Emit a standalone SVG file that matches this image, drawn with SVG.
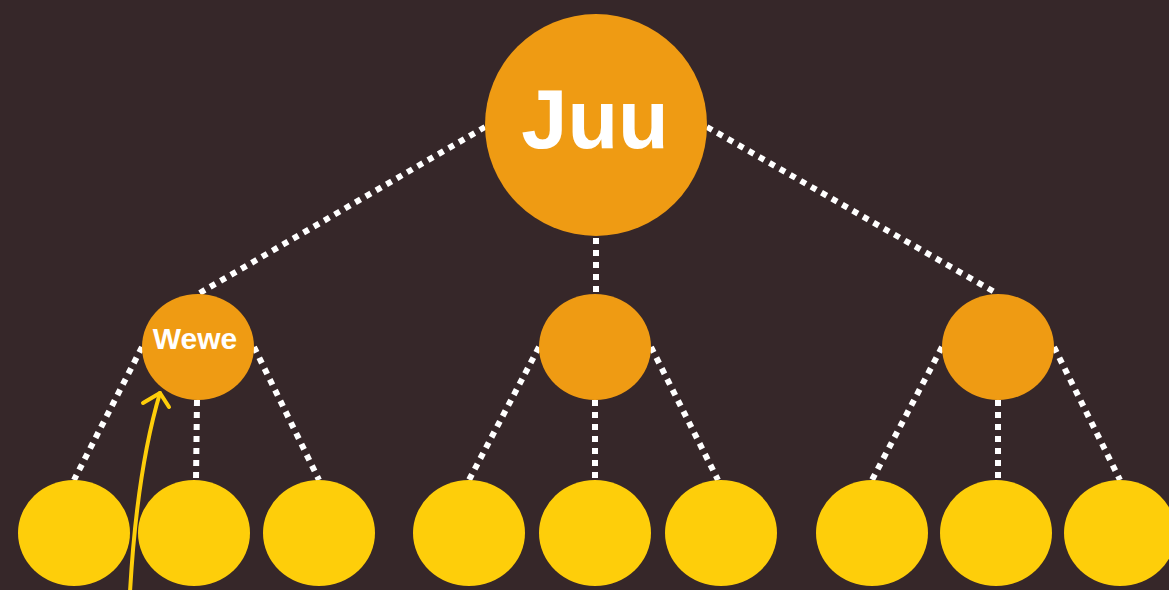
<svg xmlns="http://www.w3.org/2000/svg" width="1169" height="590" viewBox="0 0 1169 590">
<style>
.bg{fill:#362729}
.top{fill:#EF9B13}
.mid{fill:#EF9B13}
.leaf{fill:#FECE0A}
.dot{stroke:#FFFFFF;stroke-width:6;stroke-dasharray:6 6;fill:none}
.lbl{fill:#FFFFFF;font-family:"Liberation Sans",Arial,sans-serif;font-weight:bold;text-anchor:middle}
.arr{stroke:#FECE0A;stroke-width:4;fill:none;stroke-linecap:round;stroke-linejoin:round}
</style>
<rect class="bg" x="0" y="0" width="1169" height="590"/>
<g id="connectors">
<line class="dot" x1="485" y1="127" x2="198" y2="294"/>
<line class="dot" x1="596" y1="238" x2="596" y2="294"/>
<line class="dot" x1="707" y1="127" x2="998" y2="294"/>
<line class="dot" x1="142" y1="347" x2="74" y2="480"/>
<line class="dot" x1="197" y1="400" x2="196" y2="480"/>
<line class="dot" x1="254" y1="347" x2="319" y2="480"/>
<line class="dot" x1="539" y1="347" x2="469" y2="480"/>
<line class="dot" x1="595" y1="400" x2="595" y2="480"/>
<line class="dot" x1="651" y1="347" x2="718" y2="480"/>
<line class="dot" x1="942" y1="347" x2="872" y2="480"/>
<line class="dot" x1="998" y1="400" x2="998" y2="480"/>
<line class="dot" x1="1054" y1="347" x2="1120" y2="480"/>
</g>
<g id="n-root"><circle class="top" cx="596" cy="125" r="111"/><text class="lbl" x="595" y="148" font-size="83">Juu</text></g>
<g id="n-wewe"><ellipse class="mid" cx="198" cy="347" rx="56" ry="53"/><text class="lbl" x="195" y="349" font-size="30">Wewe</text></g>
<g id="n-mid2"><ellipse class="mid" cx="595" cy="347" rx="56" ry="53"/></g>
<g id="n-mid3"><ellipse class="mid" cx="998" cy="347" rx="56" ry="53"/></g>
<g id="n-l1"><ellipse class="leaf" cx="74" cy="533" rx="56" ry="53"/></g>
<g id="n-l2"><ellipse class="leaf" cx="194" cy="533" rx="56" ry="53"/></g>
<g id="n-l3"><ellipse class="leaf" cx="319" cy="533" rx="56" ry="53"/></g>
<g id="n-l4"><ellipse class="leaf" cx="469" cy="533" rx="56" ry="53"/></g>
<g id="n-l5"><ellipse class="leaf" cx="595" cy="533" rx="56" ry="53"/></g>
<g id="n-l6"><ellipse class="leaf" cx="721" cy="533" rx="56" ry="53"/></g>
<g id="n-l7"><ellipse class="leaf" cx="872" cy="533" rx="56" ry="53"/></g>
<g id="n-l8"><ellipse class="leaf" cx="996" cy="533" rx="56" ry="53"/></g>
<g id="n-l9"><ellipse class="leaf" cx="1120" cy="533" rx="56" ry="53"/></g>
<g id="arrow">
<path class="arr" d="M130,592 Q137,470 160,393"/>
<path class="arr" d="M143,403 L160,393 L169,407"/>
</g>
</svg>
